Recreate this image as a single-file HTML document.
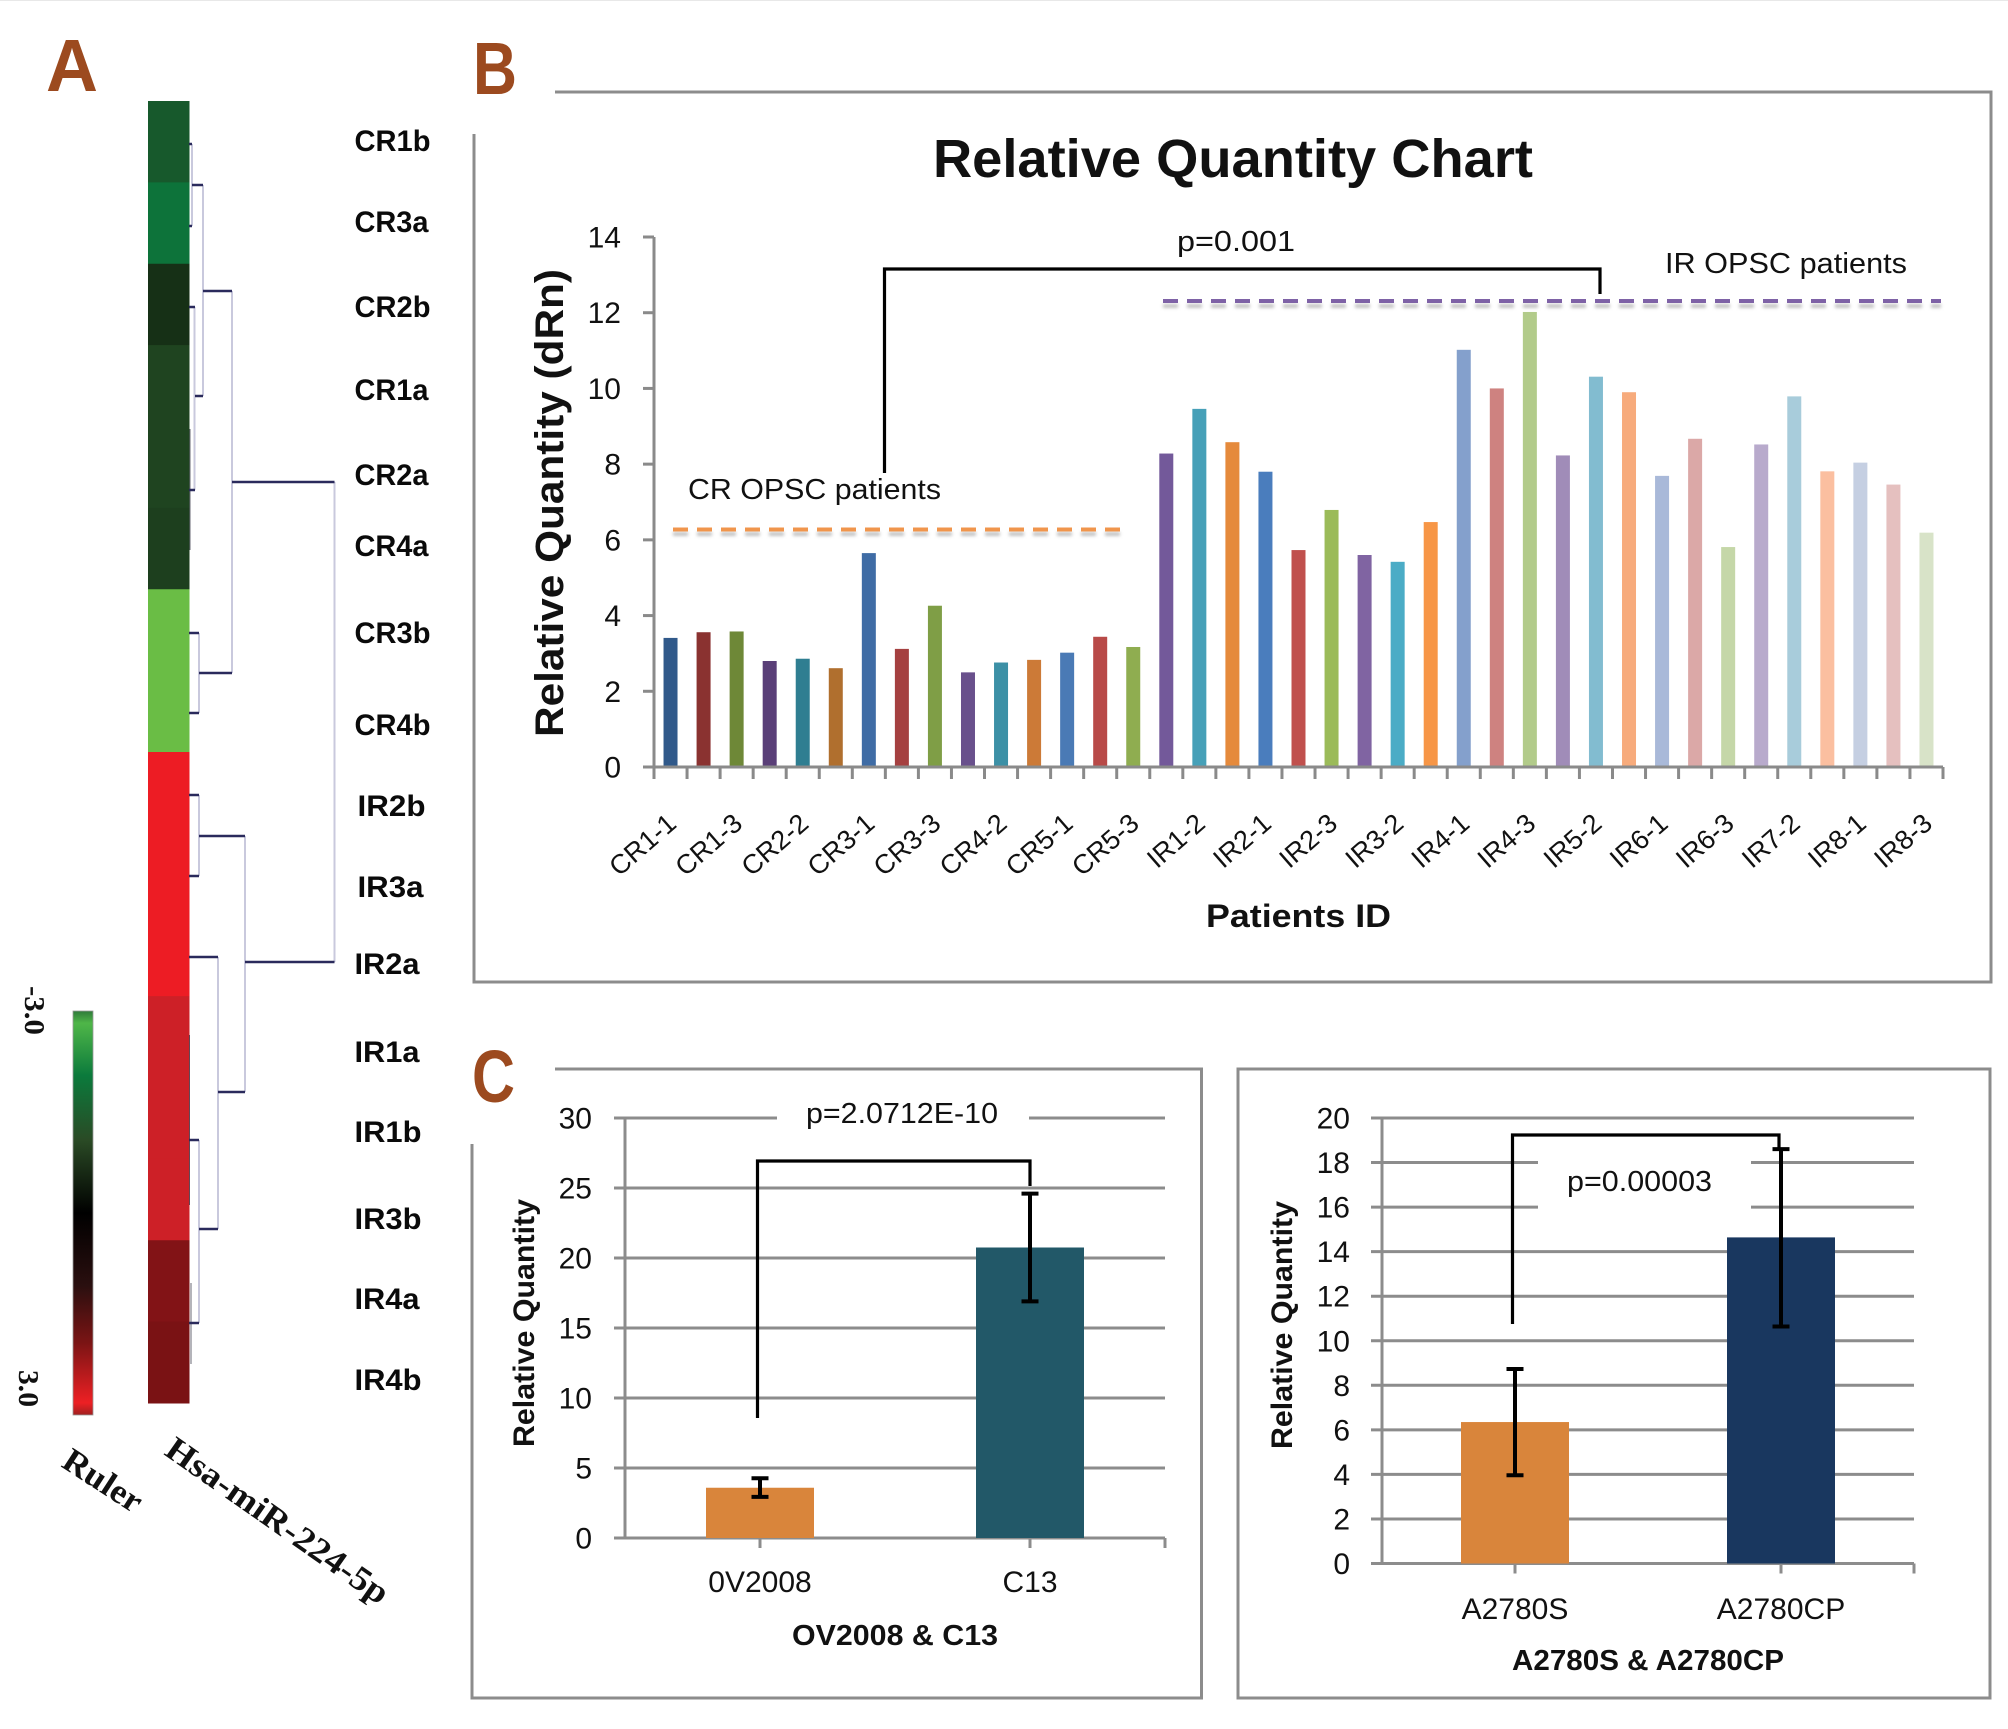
<!DOCTYPE html>
<html lang="en">
<head>
<meta charset="utf-8">
<title>miR-224-5p expression figure</title>
<style>
html,body{margin:0;padding:0;background:#fff;}
svg{display:block;}
text{font-family:"Liberation Sans",sans-serif;fill:#111;}
.serif{font-family:"Liberation Serif",serif;font-weight:bold;}
.panel{font-weight:bold;fill:#9c4a1f;font-size:74px;}
.row{font-weight:bold;font-size:30px;fill:#0a0a0a;}
.frame{stroke:#8c8c8c;stroke-width:3;fill:none;}
.dh{stroke:#2a2a5c;stroke-width:2.5;fill:none;}
.dv{stroke:#c9c9dd;stroke-width:2;fill:none;}
.dk{stroke:#2a2a3c;stroke-width:1;stroke-opacity:.7;fill:none;}
.bracket{stroke:#000;stroke-width:3.2;fill:none;}
</style>
</head>
<body>
<svg id="fig" xmlns="http://www.w3.org/2000/svg" width="2008" height="1729" viewBox="0 0 2008 1729">
<defs>
<linearGradient id="ruler-grad" x1="0" y1="0" x2="0" y2="1">
<stop offset="0" stop-color="#2f7a3a"/>
<stop offset="0.03" stop-color="#4fb648"/>
<stop offset="0.16" stop-color="#0b7a3c"/>
<stop offset="0.32" stop-color="#2a4a25"/>
<stop offset="0.5" stop-color="#000"/>
<stop offset="0.68" stop-color="#2a0f0f"/>
<stop offset="0.82" stop-color="#7a1414"/>
<stop offset="0.97" stop-color="#ed2024"/>
<stop offset="1" stop-color="#a02020"/>
</linearGradient>
<filter id="soft" filterUnits="userSpaceOnUse" x="600" y="280" width="1400" height="280"><feGaussianBlur stdDeviation="1.6"/></filter>
</defs>
<rect width="2008" height="1729" fill="#fff"/>
<rect width="2008" height="1" fill="#e8e8e8"/>

<!-- Panel letters -->
<text class="panel" x="46" y="91" textLength="52" lengthAdjust="spacingAndGlyphs">A</text>
<text class="panel" x="473" y="94" textLength="44" lengthAdjust="spacingAndGlyphs">B</text>
<text class="panel" x="472" y="1102" textLength="43" lengthAdjust="spacingAndGlyphs">C</text>

<!-- Panel frames -->
<path class="frame" d="M555 92H1991V982H474V134"/>
<path class="frame" d="M555 1069H1201.5V1698H472V1144"/>
<path class="frame" d="M1238 1069H1990V1698H1238Z"/>

<!-- Panel A -->
<g id="heatmap"></g>
<g>
<path class="dv" d="M192 144V226M203 185V396M194.5 307V490M232 291V673M199 633V713M334.5 482V962M199 795V876M245 836V1092M218 957V1229M199 1140V1323"/>
<path class="dk" d="M190 429V550M191 1283V1364M189.5 1035V1205"/>
<path class="dh" d="M189 144H192M189 226H192M192 185H203M189 307H195M189 490H195M195 396H203M203 291H232M199 673H232M189 633H199M189 713H199M189 795H199M189 876H199M199 836H245M245 1092H218M189 957H218M199 1229H218M189 1140H199M189 1323H199"/>
<path class="dh" d="M232 482H334.5M245 962H334.5"/>
</g>
<g>
<text class="row" x="354.5" y="151" textLength="76" lengthAdjust="spacingAndGlyphs">CR1b</text>
<text class="row" x="354.5" y="232" textLength="74" lengthAdjust="spacingAndGlyphs">CR3a</text>
<text class="row" x="354.5" y="317" textLength="76" lengthAdjust="spacingAndGlyphs">CR2b</text>
<text class="row" x="354.5" y="400" textLength="74" lengthAdjust="spacingAndGlyphs">CR1a</text>
<text class="row" x="354.5" y="485" textLength="74" lengthAdjust="spacingAndGlyphs">CR2a</text>
<text class="row" x="354.5" y="556" textLength="74" lengthAdjust="spacingAndGlyphs">CR4a</text>
<text class="row" x="354.5" y="643" textLength="76" lengthAdjust="spacingAndGlyphs">CR3b</text>
<text class="row" x="354.5" y="735" textLength="76" lengthAdjust="spacingAndGlyphs">CR4b</text>
<text class="row" x="357.5" y="816" textLength="68" lengthAdjust="spacingAndGlyphs">IR2b</text>
<text class="row" x="357.5" y="897" textLength="66" lengthAdjust="spacingAndGlyphs">IR3a</text>
<text class="row" x="354.5" y="974" textLength="65" lengthAdjust="spacingAndGlyphs">IR2a</text>
<text class="row" x="354.5" y="1062" textLength="65" lengthAdjust="spacingAndGlyphs">IR1a</text>
<text class="row" x="354.5" y="1142" textLength="67" lengthAdjust="spacingAndGlyphs">IR1b</text>
<text class="row" x="354.5" y="1229" textLength="67" lengthAdjust="spacingAndGlyphs">IR3b</text>
<text class="row" x="354.5" y="1309" textLength="65" lengthAdjust="spacingAndGlyphs">IR4a</text>
<text class="row" x="354.5" y="1390" textLength="67" lengthAdjust="spacingAndGlyphs">IR4b</text>
</g>
<rect x="73" y="1011" width="20" height="404" fill="url(#ruler-grad)" stroke="#999" stroke-width="0.8"/>
<text class="serif" font-size="28" transform="translate(25,986) rotate(90)" textLength="49" lengthAdjust="spacingAndGlyphs">-3.0</text>
<text class="serif" font-size="28" transform="translate(19,1370) rotate(90)" textLength="37" lengthAdjust="spacingAndGlyphs">3.0</text>
<text class="serif" font-size="34" transform="translate(60,1466) rotate(33)" textLength="88" lengthAdjust="spacingAndGlyphs">Ruler</text>
<text class="serif" font-size="34" transform="translate(163,1454) rotate(35)" textLength="264" lengthAdjust="spacingAndGlyphs">Hsa-miR-224-5p</text>

<!-- Panel B -->
<text x="933" y="177" font-size="54" font-weight="bold" fill="#000" textLength="600" lengthAdjust="spacingAndGlyphs">Relative Quantity Chart</text>
<text font-size="40" font-weight="bold" text-anchor="middle" transform="translate(563,503) rotate(-90)" textLength="468" lengthAdjust="spacingAndGlyphs">Relative Quantity (dRn)</text>
<text x="1206" y="927" font-size="32" font-weight="bold" textLength="185" lengthAdjust="spacingAndGlyphs">Patients ID</text>
<g id="chartB"></g>
<g>
<line x1="673" y1="534" x2="1123" y2="534" stroke="#bbb" stroke-width="3.5" stroke-dasharray="15 9" filter="url(#soft)"/>
<line x1="673" y1="529.5" x2="1123" y2="529.5" stroke="#f0954c" stroke-width="4" stroke-dasharray="15 9"/>
<line x1="1163" y1="306" x2="1941" y2="306" stroke="#bbb" stroke-width="3.5" stroke-dasharray="15 9" filter="url(#soft)"/>
<line x1="1163" y1="301" x2="1941" y2="301" stroke="#7e62a6" stroke-width="4" stroke-dasharray="15 9"/>
<path class="bracket" d="M884.5 473V269H1600V294"/>
<text x="1177" y="251" font-size="29" textLength="118" lengthAdjust="spacingAndGlyphs">p=0.001</text>
<text x="688" y="499" font-size="29" textLength="253" lengthAdjust="spacingAndGlyphs">CR OPSC patients</text>
<text x="1665" y="273" font-size="29" textLength="242" lengthAdjust="spacingAndGlyphs">IR OPSC patients</text>
</g>

<!-- Panel C left -->
<g id="chartC1"></g>
<text font-size="30" font-weight="bold" text-anchor="middle" transform="translate(534,1323) rotate(-90)" textLength="248" lengthAdjust="spacingAndGlyphs">Relative Quantity</text>
<text x="792" y="1645" font-size="29" font-weight="bold" textLength="206" lengthAdjust="spacingAndGlyphs">OV2008 &amp; C13</text>
<path class="bracket" d="M757.5 1418V1161H1030V1186"/>
<text x="806" y="1123" font-size="29" textLength="192" lengthAdjust="spacingAndGlyphs">p=2.0712E-10</text>

<!-- Panel C right -->
<g id="chartC2"></g>
<text font-size="30" font-weight="bold" text-anchor="middle" transform="translate(1292,1325) rotate(-90)" textLength="248" lengthAdjust="spacingAndGlyphs">Relative Quantity</text>
<text x="1512" y="1670" font-size="29" font-weight="bold" textLength="272" lengthAdjust="spacingAndGlyphs">A2780S &amp; A2780CP</text>
<path class="bracket" d="M1512.5 1324V1135H1779V1150"/>
<text x="1567" y="1191" font-size="29" textLength="145" lengthAdjust="spacingAndGlyphs">p=0.00003</text>
</svg>

<script>
// ---- Heatmap data ----
const heatRows = ['CR1b','CR3a','CR2b','CR1a','CR2a','CR4a','CR3b','CR4b','IR2b','IR3a','IR2a','IR1a','IR1b','IR3b','IR4a','IR4b'];
const heatValues = [-1.45,-2,-0.7,-1,-1,-0.93,-3,-3,3,3,3,2,2,2,1.1,1];

// ---- Chart B data ----
const patientIds = ['CR1-1','CR1-2','CR1-3','CR2-1','CR2-2','CR2-3','CR3-1','CR3-2','CR3-3','CR4-1','CR4-2','CR4-3','CR5-1','CR5-2','CR5-3',
  'IR1-1','IR1-2','IR1-3','IR2-1','IR2-2','IR2-3','IR3-1','IR3-2','IR3-3','IR4-1','IR4-2','IR4-3','IR5-1','IR5-2','IR5-3',
  'IR6-1','IR6-2','IR6-3','IR7-1','IR7-2','IR7-3','IR8-1','IR8-2','IR8-3'];
const patientValues = [3.41,3.56,3.58,2.80,2.86,2.61,5.65,3.12,4.26,2.50,2.76,2.83,3.02,3.44,3.17,
  8.28,9.46,8.58,7.80,5.73,6.79,5.60,5.42,6.47,11.02,10.0,12.02,8.23,10.31,9.90,
  7.69,8.67,5.81,8.52,9.79,7.81,8.04,7.46,6.19];
const patientTicks = [0,2,4,6,8,10,12,14];
const patientColors = ['#30598a','#8a3230','#6e8837','#5a3f78','#2f7e91','#b06f2e','#3f6ca5','#a54040','#7f9e46','#69508c','#3c90a6','#cc7a37','#4a7ab5','#b84a48','#8fad50',
  '#73599a','#46a0b8','#e58a3c','#4a7dbd','#c0504d','#9bbb59','#8064a2','#4bacc6','#f79646','#84a0cc','#ce8280','#b2cb8a','#a08cb8','#82bcd0','#f7ab7c',
  '#a9b9d9','#dba8a7','#c5d7a8','#b8aacc','#a8ccdb','#fbbfa0','#c5cfe2','#e5c0bf','#d8e3c8'];

// ---- Chart C (left) data ----
const c1Categories = ['0V2008','C13'];
const c1Values = [3.59,20.75];
const c1ErrHigh = [4.27,24.6];
const c1ErrLow = [2.94,16.9];
const c1Ticks = [0,5,10,15,20,25,30];

// ---- Chart C (right) data ----
const c2Categories = ['A2780S','A2780CP'];
const c2Values = [6.35,14.64];
const c2ErrHigh = [8.73,18.6];
const c2ErrLow = [3.96,10.64];
const c2Ticks = [0,2,4,6,8,10,12,14,16,18,20];

const NS = 'http://www.w3.org/2000/svg';
function make(parent, tag, attrs, txt) {
  const el = document.createElementNS(NS, tag);
  for (const k in attrs) el.setAttribute(k, attrs[k]);
  if (txt !== undefined) el.textContent = txt;
  parent.appendChild(el);
  return el;
}
function hex(c){return [parseInt(c.slice(1,3),16),parseInt(c.slice(3,5),16),parseInt(c.slice(5,7),16)];}
const heatStops = [[-3,'#6abd45'],[-2,'#0d733a'],[-1,'#1f4420'],[0,'#000000'],[1,'#7a1214'],[2,'#cd2027'],[3,'#ed1c24']];
function heatColor(v) {
  for (let i = 0; i < heatStops.length - 1; i++) {
    const a = heatStops[i], b = heatStops[i + 1];
    if (v <= b[0]) {
      const t = Math.max(0, (v - a[0]) / (b[0] - a[0]));
      const ca = hex(a[1]), cb = hex(b[1]);
      return 'rgb(' + ca.map((x, j) => Math.round(x + (cb[j] - x) * t)).join(',') + ')';
    }
  }
  return heatStops[heatStops.length - 1][1];
}

// ---- Draw heatmap ----
(function () {
  const g = document.getElementById('heatmap');
  const top = 101, bottom = 1403, left = 148, w = 41.5;
  const h = (bottom - top) / heatRows.length;
  heatRows.forEach((name, i) => {
    const el = make(g, 'rect', {x: left, y: top + i * h, width: w, height: h + 0.5, fill: heatColor(heatValues[i])});
    
    
  });
})();

// ---- Draw chart B ----
(function () {
  const g = document.getElementById('chartB');
  const x0 = 654, x1 = 1943, y0 = 767, y14 = 237;
  const band = (x1 - x0) / patientIds.length;
  const yScale = v => y0 - v * (y0 - y14) / 14;
  const xScale = i => x0 + (i + 0.5) * band;
  const axisStyle = {stroke: '#8a8a8a', 'stroke-width': 3};

  patientValues.forEach((v, i) => {
    const bar = make(g, 'rect', {x: xScale(i) - 7, y: yScale(v), width: 14, height: y0 - yScale(v), fill: patientColors[i]});
    
    
  });

  const yAxis = make(g, 'line', Object.assign({x1: x0, x2: x0, y1: y14, y2: y0}, axisStyle));
  
  
  const xAxis = make(g, 'line', Object.assign({x1: x0 - 11, x2: x1, y1: y0, y2: y0}, axisStyle));
  
  

  patientTicks.forEach(t => {
    const tick = make(g, 'line', Object.assign({x1: x0 - 11, x2: x0, y1: yScale(t), y2: yScale(t)}, axisStyle));
    
    
    const label = make(g, 'text', {x: 621, y: yScale(t) + 10.5, 'font-size': 30, 'text-anchor': 'end'}, String(t));
    
    
  });
  for (let i = 0; i <= patientIds.length; i++) {
    const bx = x0 + i * band;
    const tick = make(g, 'line', Object.assign({x1: bx, x2: bx, y1: y0, y2: y0 + 12}, axisStyle));
    
    
  }
  patientIds.forEach((id, i) => {
    if (i % 2 !== 0) return;
    const lx = xScale(i) + 7.5, ly = 826;
    const label = make(g, 'text', {'font-size': 27, 'text-anchor': 'end', fill: '#222', transform: 'translate(' + lx + ',' + ly + ') rotate(-41)'}, id);
    
    
  });
})();

// ---- Draw a chart-C bar chart ----
function drawBars(gid, prefix, cfg, cats, vals, hi, lo, ticks, colors) {
  const g = document.getElementById(gid);
  const maxV = ticks[ticks.length - 1];
  const band = (cfg.x1 - cfg.x0) / cats.length;
  const yScale = v => cfg.y0 - v * (cfg.y0 - cfg.yTop) / maxV;
  const xScale = i => cfg.x0 + (i + 0.5) * band;
  const gridStyle = {stroke: '#8c8c8c', 'stroke-width': 3};

  ticks.forEach(t => {
    const line = make(g, 'line', Object.assign({x1: cfg.x0 - 11, x2: cfg.x1, y1: yScale(t), y2: yScale(t)}, gridStyle));
    
    
    const label = make(g, 'text', {x: cfg.labelX, y: yScale(t) + 10.5, 'font-size': 30, 'text-anchor': 'end'}, String(t));
    
    
  });
  cfg.masks.forEach(m => {
    const mask = make(g, 'rect', {x: m[0], y: yScale(m[1]) - 3, width: m[2] - m[0], height: yScale(m[3]) - yScale(m[1]) + 6, fill: '#fff'});
    
    
  });
  const yAxis = make(g, 'line', Object.assign({x1: cfg.x0, x2: cfg.x0, y1: cfg.yTop, y2: cfg.y0}, gridStyle));
  
  

  vals.forEach((v, i) => {
    const cx = xScale(i);
    const bar = make(g, 'rect', {x: cx - 54, y: yScale(v), width: 108, height: cfg.y0 - yScale(v), fill: colors[i]});
    
    
    const tick = make(g, 'line', Object.assign({x1: cx, x2: cx, y1: cfg.y0, y2: cfg.y0 + 10}, gridStyle));
    
    
    const err = make(g, 'path', {d: 'M' + (cx - 8.5) + ' ' + yScale(hi[i]) + 'H' + (cx + 8.5) + 'M' + cx + ' ' + yScale(hi[i]) + 'V' + yScale(lo[i]) + 'M' + (cx - 8.5) + ' ' + yScale(lo[i]) + 'H' + (cx + 8.5), stroke: '#000', 'stroke-width': 4, fill: 'none'});
    
    
    const label = make(g, 'text', {x: cx, y: cfg.catY, 'font-size': 30, 'text-anchor': 'middle', fill: '#222'}, cats[i]);
    
    
  });
  const endTick = make(g, 'line', Object.assign({x1: cfg.x1, x2: cfg.x1, y1: cfg.y0, y2: cfg.y0 + 10}, gridStyle));
  
  
}

drawBars('chartC1', 'chart-c-left',
  {x0: 625, x1: 1165, y0: 1538, yTop: 1118, labelX: 592, catY: 1592, masks: [[777, 30, 1029, 30]]},
  c1Categories, c1Values, c1ErrHigh, c1ErrLow, c1Ticks, ['#d9853b', '#225868']);
drawBars('chartC2', 'chart-c-right',
  {x0: 1382, x1: 1914, y0: 1563.5, yTop: 1118, labelX: 1350, catY: 1619, masks: [[1538, 18, 1751, 16]]},
  c2Categories, c2Values, c2ErrHigh, c2ErrLow, c2Ticks, ['#d9853b', '#19375f']);
</script>
</body>
</html>
